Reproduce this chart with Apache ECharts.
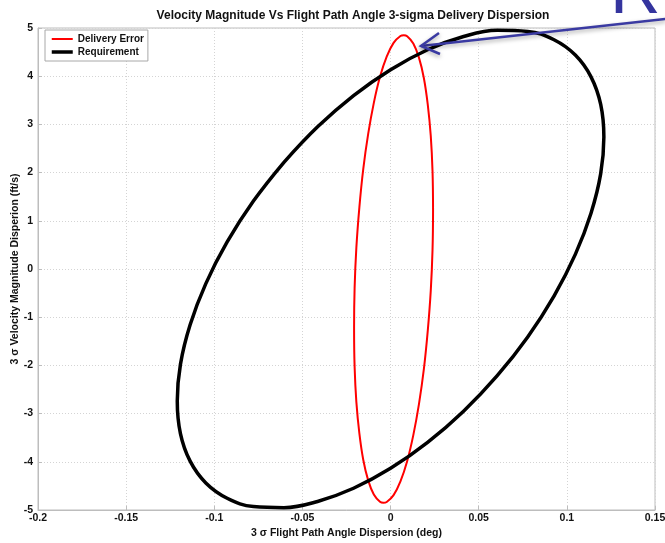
<!DOCTYPE html>
<html><head><meta charset="utf-8">
<script src="https://cdn.jsdelivr.net/npm/echarts@6/dist/echarts.min.js"></script>
<style>html,body{margin:0;padding:0;background:#fff}#c{width:665px;height:543px}</style>
</head><body><div id="c"></div>
<script>
var titleText = 'Velocity Magnitude Vs Flight Path Angle 3-sigma Delivery Dispersion';
var xName = '3 \u03c3 Flight Path Angle Dispersion (deg)';
var yName = '3 \u03c3 Velocity Magnitude Disperion (ft/s)';
var seriesNames = ['Delivery Error', 'Requirement'];
var xTicks = [-0.2, -0.15, -0.1, -0.05, 0, 0.05, 0.1, 0.15];
var yTicks = [-5, -4, -3, -2, -1, 0, 1, 2, 3, 4, 5];

// points read along the red ellipse (Delivery Error)
var deliveryX = [0.0241, 0.0238, 0.0228, 0.0211, 0.0189, 0.0161, 0.0129, 0.0094, 0.0075, 0.0056, 0.0017, -0.0022, -0.0060,
                 -0.0095, -0.0127, -0.0155, -0.0177, -0.0194, -0.0204, -0.0207, -0.0204, -0.0194, -0.0177, -0.0155, -0.0127,
                 -0.0095, -0.0060, -0.0041, -0.0022, 0.0017, 0.0056, 0.0094, 0.0129, 0.0161, 0.0189, 0.0211, 0.0228, 0.0238, 0.0241];
var deliveryY = [1.231, 2.027, 2.761, 3.411, 3.958, 4.385, 4.678, 4.829, 4.850, 4.834, 4.691, 4.406, 3.987,
                 3.447, 2.803, 2.073, 1.280, 0.448, -0.397, -1.231, -2.027, -2.761, -3.411, -3.958, -4.385,
                 -4.678, -4.829, -4.850, -4.834, -4.691, -4.406, -3.987, -3.447, -2.803, -2.073, -1.280, -0.448, 0.397, 1.231];
// points read along the black ellipse (Requirement)
var reqX = [-0.0605, -0.0778, -0.0927, -0.1048, -0.1137, -0.1192, -0.1210, -0.1192, -0.1137, -0.1048, -0.0927, -0.0778,
            -0.0605, -0.0414, -0.0210, 0, 0.0210, 0.0414, 0.0605, 0.0778, 0.0927, 0.1048, 0.1137, 0.1192,
            0.1210, 0.1192, 0.1137, 0.1048, 0.0927, 0.0778, 0.0605, 0.0414, 0.0210, 0, -0.0210, -0.0414, -0.0605];
var reqY = [2.213, 1.409, 0.561, -0.303, -1.158, -1.978, -2.737, -3.414, -3.987, -4.439, -4.756, -4.928,
            -4.951, -4.823, -4.549, -4.136, -3.598, -2.950, -2.213, -1.409, -0.561, 0.303, 1.158, 1.978,
            2.737, 3.414, 3.987, 4.439, 4.756, 4.928, 4.951, 4.823, 4.549, 4.136, 3.598, 2.950, 2.213];

function pairs(xs, ys){ return xs.map(function(x,i){ return [x, ys[i]]; }); }

var chart = echarts.init(document.getElementById('c'), null, {renderer:'canvas'});
var font = 'Liberation Sans, Arial, Helvetica, sans-serif';
var axisCol = '#bdbdbd';
chart.setOption({
  animation: false,
  backgroundColor: '#fff',
  title: { text: titleText, left: 348, textAlign: 'center', top: 5,
           textStyle: { fontFamily: font, fontSize: 12, fontWeight: 'bold', color: '#111' } },
  grid: { left: 38, right: 10, top: 28, bottom: 33, outerBoundsMode: 'none', containLabel: false,
          show: true, borderColor: axisCol, borderWidth: 1, backgroundColor: 'transparent' },
  legend: {
    orient: 'vertical', left: 45, top: 30, itemGap: 3, padding: [4, 4, 4, 5],
    itemWidth: 21, itemHeight: 10,
    borderColor: '#a8a8a8', borderWidth: 1, backgroundColor: '#fff', borderRadius: 0,
    data: [
      { name: seriesNames[0], lineStyle: { width: 2 } },
      { name: seriesNames[1], lineStyle: { width: 3.5 } }
    ],
    itemStyle: { opacity: 0 },
    textStyle: { fontFamily: font, fontSize: 10, fontWeight: 'bold', color: '#111', width: 68, overflow: 'truncate', ellipsis: '' }
  },
  xAxis: {
    type: 'value', min: -0.2, max: 0.15, interval: 0.05,
    name: xName, nameLocation: 'middle', nameGap: 18, nameMoveOverlap: false,
    nameTextStyle: { fontFamily: font, fontSize: 10.5, fontWeight: 'bold', color: '#111' },
    axisLine: { onZero: false, lineStyle: { color: axisCol } },
    axisTick: { inside: true, length: 4, lineStyle: { color: axisCol } },
    axisLabel: { fontFamily: font, fontSize: 10.5, fontWeight: 'bold', color: '#111', margin: 3,
                 formatter: function(v){ var t = xTicks.find(function(k){return Math.abs(k-v)<1e-9;}); return t===undefined? '' : String(t); } },
    splitLine: { show: true, lineStyle: { color: '#d4d4d4', type: [1, 2] } }
  },
  yAxis: {
    type: 'value', min: -5, max: 5, interval: 1,
    name: yName, nameLocation: 'middle', nameGap: 17, nameMoveOverlap: false,
    nameTextStyle: { fontFamily: font, fontSize: 10.5, fontWeight: 'bold', color: '#111' },
    axisLine: { show: true, onZero: false, lineStyle: { color: axisCol } },
    axisTick: { show: true, inside: true, length: 4, lineStyle: { color: axisCol } },
    axisLabel: { fontFamily: font, fontSize: 10.5, fontWeight: 'bold', color: '#111', margin: 5,
                 formatter: function(v){ var t = yTicks.find(function(k){return Math.abs(k-v)<1e-9;}); return t===undefined? '' : String(t); } },
    splitLine: { show: true, lineStyle: { color: '#d4d4d4', type: [1, 2] } }
  },
  series: [
    { name: seriesNames[0], type: 'line', data: pairs(deliveryX, deliveryY), smooth: 0.4, symbol: 'none',
      lineStyle: { color: '#ff0000', width: 2, join: 'round' }, itemStyle: { color: '#ff0000' }, z: 3 },
    { name: seriesNames[1], type: 'line', data: pairs(reqX, reqY), smooth: 0.4, symbol: 'none',
      lineStyle: { color: '#000', width: 3.5, join: 'round' }, itemStyle: { color: '#000' }, z: 4 }
  ],
  graphic: [
    { type: 'text', left: 610, top: -41, z: 100,
      style: { text: 'R', fontFamily: font, fontSize: 70, fill: '#34349e' } },
    { type: 'polyline', z: 100, shape: { points: [[666, 19], [421, 46]] },
      style: { stroke: '#3a3aa2', lineWidth: 2.5, shadowBlur: 4, shadowColor: 'rgba(0,0,0,0.35)', shadowOffsetY: 2 } },
    { type: 'polyline', z: 100, shape: { points: [[439, 33], [421, 46], [440, 54]] },
      style: { stroke: '#3a3aa2', lineWidth: 2.5, fill: null, shadowBlur: 4, shadowColor: 'rgba(0,0,0,0.35)', shadowOffsetY: 2 } }
  ]
});
</script></body></html>
